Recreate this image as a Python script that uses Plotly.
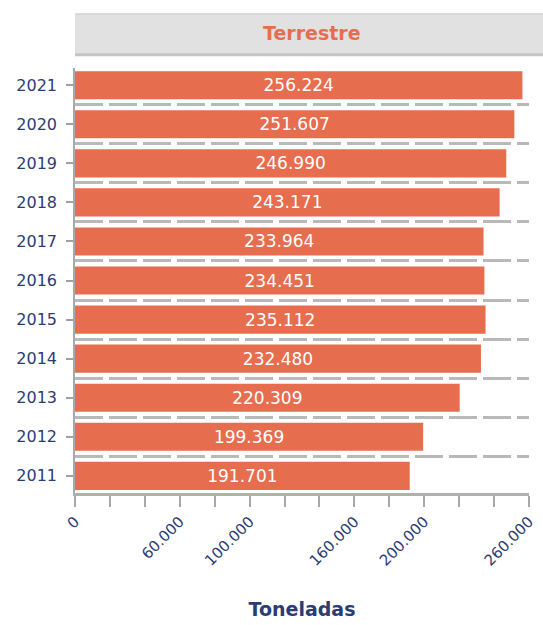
import plotly.graph_objects as go

# Freight tonnage by land transport, 2011-2021
years = [2011, 2012, 2013, 2014, 2015, 2016, 2017, 2018, 2019, 2020, 2021]
toneladas = [191701, 199369, 220309, 232480, 235112, 234451, 233964, 243171, 246990, 251607, 256224]

x_ticks = list(range(0, 260001, 20000))
x_labelled = [0, 60000, 100000, 160000, 200000, 260000]
x_ticktext = [f"{v:,}".replace(",", ".") if v in x_labelled else "" for v in x_ticks]

panel_title = "Terrestre"
x_title = "Toneladas"

BAR = "#E76D4F"
NAVY = "#2B3C73"
GRID = "#B9B9B9"
FONT = "DejaVu Sans"

fig = go.Figure(
    go.Bar(
        x=toneladas,
        y=years,
        orientation="h",
        width=0.72,
        marker=dict(color=BAR, line=dict(width=0)),
        texttemplate="%{x:,.0f}",
        textposition="inside",
        insidetextanchor="middle",
        textangle=0,
        textfont=dict(color="white", size=17, family=FONT),
        hoverinfo="skip",
    )
)

fig.update_layout(
    width=543,
    height=625,
    margin=dict(l=75, r=14, t=68, b=132),
    paper_bgcolor="white",
    plot_bgcolor="white",
    separators=",.",
    showlegend=False,
    font=dict(family=FONT, color=NAVY),
)

fig.update_xaxes(
    range=[0, 260000],
    automargin=False,
    tickmode="array",
    tickvals=x_ticks,
    ticktext=x_ticktext,
    tickangle=-45,
    tickfont=dict(size=15, color=NAVY),
    ticks="outside",
    ticklen=11,
    tickwidth=2,
    tickcolor="#A8A8A8",
    showline=True,
    linecolor="#B0B0B0",
    linewidth=3,
    showgrid=False,
    zeroline=False,
    title=dict(text=f"<b>{x_title}</b>", font=dict(size=19, color=NAVY), standoff=35),
)

fig.update_yaxes(
    range=[2010.56, 2021.44],
    automargin=False,
    tickmode="array",
    tickvals=years,
    ticktext=[str(y) for y in years],
    tickfont=dict(size=16, color=NAVY),
    ticks="outside",
    ticklen=7,
    tickwidth=1.5,
    tickcolor="#A0A0A0",
    ticklabelstandoff=6,
    showline=True,
    linecolor="#A8A8A8",
    linewidth=1.5,
    showgrid=False,
    zeroline=False,
    minor=dict(
        tick0=0.5,
        dtick=1,
        ticks="",
        showgrid=True,
        gridcolor=GRID,
        gridwidth=3,
        griddash="28px,6px",
    ),
)

# facet strip header above the panel
fig.add_shape(
    type="rect", xref="paper", yref="paper",
    x0=0, x1=1.045, y0=1.031, y1=1.127,
    fillcolor="#E1E1E1", line=dict(width=0), layer="below",
)
fig.add_shape(
    type="line", xref="paper", yref="paper",
    x0=0, x1=1.045, y0=1.031, y1=1.031,
    line=dict(color="#C4C4C4", width=3),
)
fig.add_shape(
    type="line", xref="paper", yref="paper",
    x0=0, x1=1.045, y0=1.127, y1=1.127,
    line=dict(color="#D2D2D2", width=1.5),
)
fig.add_annotation(
    text=f"<b>{panel_title}</b>", xref="paper", yref="paper",
    x=0.523, y=1.083, xanchor="center", yanchor="middle", showarrow=False,
    font=dict(size=19, color=BAR, family=FONT),
)

fig.write_html("out.html")
